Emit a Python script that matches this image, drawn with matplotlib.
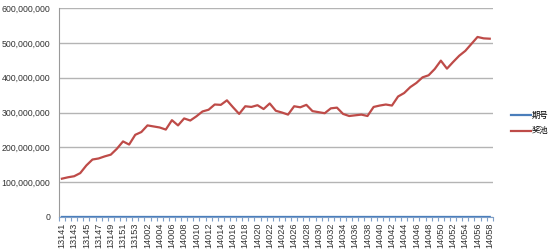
import matplotlib
matplotlib.use('Agg')
from matplotlib import pyplot as plt
from matplotlib.ticker import FuncFormatter, FixedLocator

plt.rcParams['font.family'] = ['Liberation Sans', 'Noto Sans CJK SC', 'DejaVu Sans']

# 期号
periods = list(range(13141, 13154)) + list(range(14001, 14059))
labels = [str(p) for p in periods]

# 奖池 (millions)
pool_m = [110, 114, 117, 126, 148, 165, 168, 174, 179, 196,
          217, 208, 236, 244, 263, 260, 257, 251, 278, 263,
          283, 277, 289, 303, 308, 323, 322, 335, 315, 296,
          318, 316, 321, 310, 326, 305, 300, 294, 318, 315,
          322, 304, 301, 298, 312, 314, 296, 290, 292, 294,
          290, 316, 320, 323, 320, 346, 356, 373, 385, 401,
          407, 425, 449, 426, 445, 463, 477, 497, 517, 513,
          512]
pool = [v * 1e6 for v in pool_m]

x = list(range(len(periods)))

fig, ax = plt.subplots(figsize=(5.5, 2.52), dpi=100)
fig.subplots_adjust(left=0.107, right=0.896, top=0.968, bottom=0.139)

ax.plot(x, periods, color='#4a7ebb', lw=1.6, label='期号', zorder=3)
ax.plot(x, pool, color='#be4b48', lw=1.6, label='奖池', zorder=3)

ax.set_xlim(-0.5, len(x) - 0.5)
ax.set_ylim(0, 600e6)
ax.set_yticks([i * 100e6 for i in range(7)])
ax.yaxis.set_major_formatter(FuncFormatter(lambda v, p: f'{int(v):,}'))
ax.grid(axis='y', color='#b4b4b4', lw=1.0)
ax.set_axisbelow(True)

ax.set_xticks(x[::2])
ax.set_xticklabels(labels[::2], rotation=90, fontsize=6.6, color='#333333')
ax.xaxis.set_minor_locator(FixedLocator([i - 0.5 for i in range(len(x) + 1)]))
ax.tick_params(axis='x', which='major', length=0, pad=4)
ax.tick_params(axis='x', which='minor', length=3, color='#7f9fc8', width=0.8)
ax.tick_params(axis='y', length=0, labelsize=6.3, pad=6, labelcolor='#333333')

for s in ['top', 'right']:
    ax.spines[s].set_visible(False)
ax.spines['left'].set_color('#9a9a9a')
ax.spines['bottom'].set_color('#7f9fc8')

ax.legend(loc='center left', bbox_to_anchor=(1.032, 0.447), frameon=False,
          fontsize=6, handlelength=2.4, handletextpad=0.1, borderpad=0,
          labelspacing=0.9)

fig.savefig('out.png')
